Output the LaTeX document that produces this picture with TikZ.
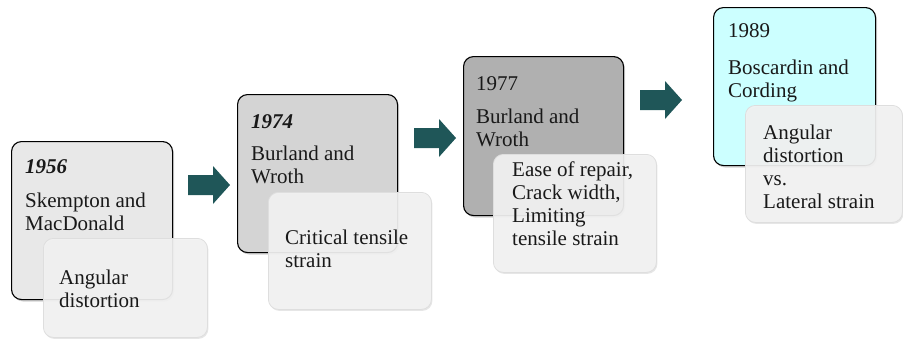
\documentclass[tikz,border=0pt]{standalone}
\usepackage{fontspec}
\setmainfont{Liberation Serif}
\usepackage{tikz}
\usetikzlibrary{shadows,positioning}
\definecolor{arrowteal}{RGB}{31,86,88}
\definecolor{cyanbox}{RGB}{204,255,255}

\begin{document}
\begin{tikzpicture}[x=1pt,y=-1pt,line join=round,
  yearbox/.style={draw=black,line width=1.1pt,rounded corners=10pt,anchor=north west,
    inner sep=0pt,drop shadow={shadow xshift=1.5pt,shadow yshift=-2pt,opacity=.35}},
  notebox/.style={draw=black!13,line width=.8pt,rounded corners=10pt,anchor=north west,
    inner sep=0pt,fill=black!5,fill opacity=.92,
    drop shadow={shadow xshift=1pt,shadow yshift=-1.5pt,opacity=.2}},
  boxtext/.style={anchor=base west,align=left,inner sep=0pt,text=black!90,
    font=\fontsize{21}{23}\selectfont}]
\useasboundingbox (0,0) rectangle (903,349);
% year boxes (base of a text node = its last line)
\node[yearbox,fill=black!9,minimum width=161pt,minimum height=158pt] (b1) at (11,141) {};
\node[yearbox,fill=black!17,minimum width=160pt,minimum height=158pt] (b2) at (237,94) {};
\node[yearbox,fill=black!31,minimum width=160pt,minimum height=159pt] (b3) at (463,56) {};
\node[yearbox,fill=cyanbox,minimum width=162pt,minimum height=158pt] (b4) at (713,7) {};
\node[boxtext] (t1) at (25,173) {\textbf{\textit{1956}}};
\node[boxtext] (t2) at (251,128) {\textbf{\textit{1974}}};
\node[boxtext] (t3) at (476,90) {1977};
\node[boxtext] (t4) at (728,37) {1989};
\node[boxtext] (n1) at (25,230) {Skempton and\\MacDonald};
\node[boxtext] (n2) at (251,183) {Burland and\\Wroth};
\node[boxtext] (n3) at (476,146) {Burland and\\Wroth};
\node[boxtext] (n4) at (728,97) {Boscardin and\\Cording};
% criteria boxes
\node[notebox,minimum width=164pt,minimum height=99pt] (c1) at (43,238) {};
\node[notebox,minimum width=163pt,minimum height=117pt] (c2) at (268,192) {};
\node[notebox,minimum width=163pt,minimum height=118pt] (c3) at (493,154) {};
\node[notebox,minimum width=157pt,minimum height=117pt] (c4) at (745,105) {};
\node[boxtext] (k1) at (59,307) {Angular\\distortion};
\node[boxtext] (k2) at (285,267) {Critical tensile\\strain};
\node[boxtext] (k3) at (512,245) {Ease of repair,\\Crack width,\\Limiting\\tensile strain};
\node[boxtext] (k4) at (763,208) {Angular\\distortion\\vs.\\Lateral strain};
% arrows
\foreach \ax/\ay in {188/185,414/138,640/100}
  \fill[arrowteal] (\ax,\ay-10) -- ++(25,0) -- ++(0,-9) -- ++(17,19)
    -- ++(-17,19) -- ++(0,-9) -- ++(-25,0) -- cycle;
\end{tikzpicture}
\end{document}
